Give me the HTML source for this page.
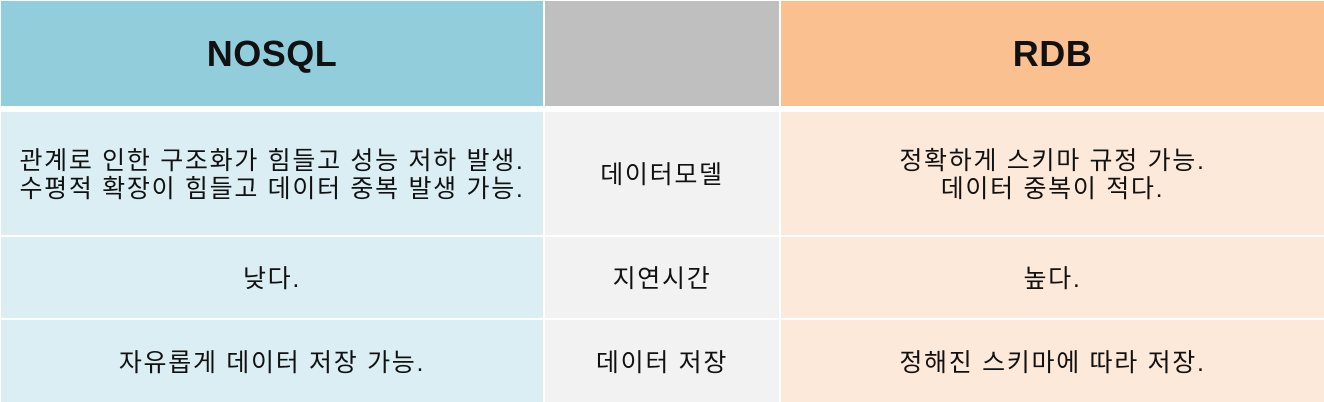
<!DOCTYPE html>
<html><head><meta charset="utf-8"><style>
body{margin:0;width:1324px;height:402px;background:#fff;position:relative;overflow:hidden;font-family:"Liberation Sans","Noto Sans CJK KR",sans-serif;color:#111}
.c{position:absolute;display:flex;align-items:center;justify-content:center;text-align:center;font-size:25px;line-height:28px;letter-spacing:1.7px;box-sizing:border-box;padding-top:3px}
.h{font-weight:bold;font-size:36px;letter-spacing:0.5px;padding-top:0}
</style></head><body>
<div class="c h" style="left:1px;top:1px;width:542px;height:105px;background:#92CDDC">NOSQL</div>
<div class="c h" style="left:545px;top:1px;width:234px;height:105px;background:#BFBFBF"></div>
<div class="c h" style="left:781px;top:1px;width:543px;height:105px;background:#FAC090">RDB</div>

<div class="c" style="left:1px;top:112px;width:542px;height:123px;background:#DBEEF3">관계로 인한 구조화가 힘들고 성능 저하 발생.<br>수평적 확장이 힘들고 데이터 중복 발생 가능.</div>
<div class="c" style="left:545px;top:112px;width:234px;height:123px;background:#F2F2F2">데이터모델</div>
<div class="c" style="left:781px;top:112px;width:543px;height:123px;background:#FDE9D9">정확하게 스키마 규정 가능.<br>데이터 중복이 적다.</div>

<div class="c" style="left:1px;top:237px;width:542px;height:81px;background:#DBEEF3">낮다.</div>
<div class="c" style="left:545px;top:237px;width:234px;height:81px;background:#F2F2F2">지연시간</div>
<div class="c" style="left:781px;top:237px;width:543px;height:81px;background:#FDE9D9">높다.</div>

<div class="c" style="left:1px;top:320px;width:542px;height:82px;background:#DBEEF3">자유롭게 데이터 저장 가능.</div>
<div class="c" style="left:545px;top:320px;width:234px;height:82px;background:#F2F2F2">데이터 저장</div>
<div class="c" style="left:781px;top:320px;width:543px;height:82px;background:#FDE9D9">정해진 스키마에 따라 저장.</div>
</body></html>
